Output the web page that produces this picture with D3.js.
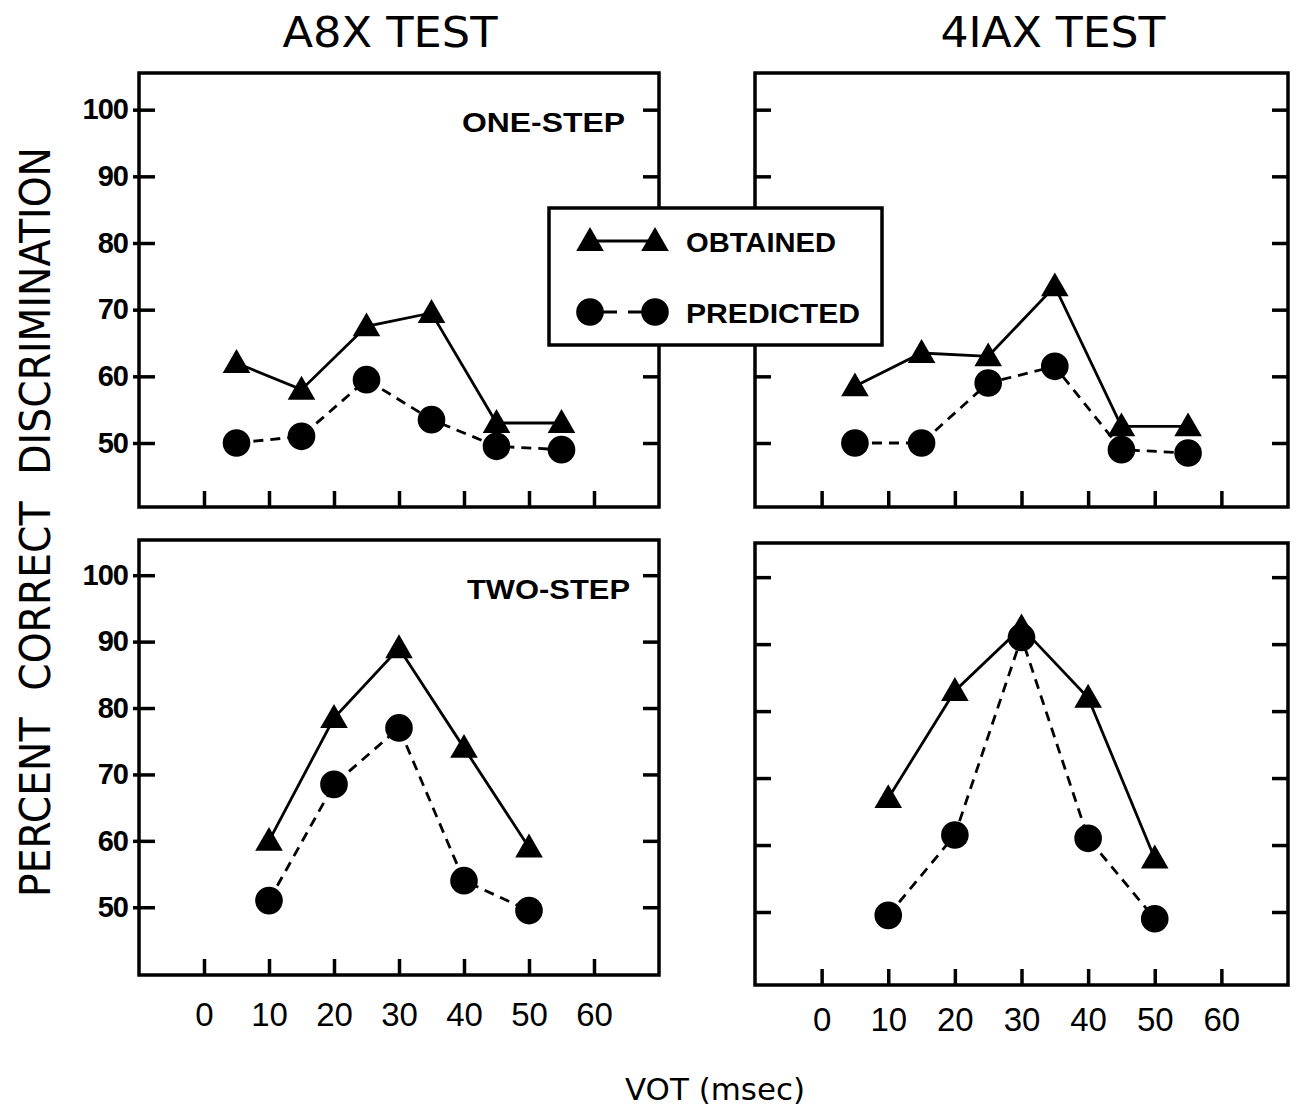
<!DOCTYPE html>
<html>
<head>
<meta charset="utf-8">
<script src="https://cdn.jsdelivr.net/npm/d3@7"></script>
<style>
  body { margin: 0; background: #fff; }
  svg { display: block; }
  .tick line { stroke: #000; stroke-width: 3.5; }
  .tick text { fill: #000; }
</style>
</head>
<body>
<div id="chart"></div>
<script>
// VOT values (msec)
const oneStepVOT = [5, 15, 25, 35, 45, 55];
const twoStepVOT = [10, 20, 30, 40, 50];

// percent correct
const abxOneObtained  = [62, 58, 67.5, 69.5, 53, 53];
const abxOnePredicted = [50, 51, 59.5, 53.5, 49.5, 49];
const iaxOneObtained  = [58.5, 63.5, 63, 73.5, 52.5, 52.5];
const iaxOnePredicted = [50, 50, 59, 61.5, 49, 48.5];
const abxTwoObtained  = [60, 78.5, 89, 74, 59];
const abxTwoPredicted = [51, 68.5, 77, 54, 49.5];
const iaxTwoObtained  = [67, 83, 92.5, 82, 58];
const iaxTwoPredicted = [49.5, 61.5, 91, 61, 49];

const yTicks = [50, 60, 70, 80, 90, 100];
const xTicks = [0, 10, 20, 30, 40, 50, 60];
const testTitles = ["A8X TEST", "4IAX TEST"];
const conditionLabels = ["ONE-STEP", "TWO-STEP"];
const legendLabels = ["OBTAINED", "PREDICTED"];

const svg = d3.select("#chart").append("svg")
    .attr("width", 1296)
    .attr("height", 1111);

const tri = d3.symbol().type(d3.symbolTriangle).size(330);
const dot = d3.symbol().type(d3.symbolCircle).size(600);

function drawPanel(p) {
    const x = d3.scaleLinear().domain([-10, 70]).range([p.left, p.right]);
    const y = d3.scaleLinear().domain(p.yDomain).range([p.bottom, p.top]);

    const g = svg.append("g");

    // inward ticks on all four sides
    const yl = g.append("g")
        .attr("transform", `translate(${p.left},0)`)
        .call(d3.axisLeft(y).tickValues(yTicks).tickSizeInner(-16).tickSizeOuter(0)
            .tickPadding(11).tickFormat(p.yLabels ? d3.format("d") : ""));
    yl.select(".domain").remove();
    yl.selectAll("text")
        .attr("font-family", "Liberation Sans, Arial, sans-serif")
        .attr("font-weight", "bold")
        .attr("font-size", 29)
        .attr("letter-spacing", -1);
    if (p.yLabels) {
        // small stub outside the frame
        yl.selectAll(".tick").append("line").attr("x2", -6);
    }

    const yr = g.append("g")
        .attr("transform", `translate(${p.right},0)`)
        .call(d3.axisRight(y).tickValues(yTicks).tickSize(-16).tickFormat(""));
    yr.select(".domain").remove();

    const xb = g.append("g")
        .attr("transform", `translate(0,${p.bottom})`)
        .call(d3.axisBottom(x).tickValues(xTicks).tickSizeInner(-16).tickSizeOuter(0)
            .tickPadding(p.xPad || 0).tickFormat(p.xLabels ? d3.format("d") : ""));
    xb.select(".domain").remove();
    xb.selectAll("text")
        .attr("font-family", "Liberation Sans, Arial, sans-serif")
        .attr("font-size", 33);

    g.append("rect")
        .attr("x", p.left).attr("y", p.top)
        .attr("width", p.right - p.left).attr("height", p.bottom - p.top)
        .attr("fill", "none").attr("stroke", "#000").attr("stroke-width", 3.5);

    const line = d3.line().x(d => x(d[0])).y(d => y(d[1]));
    const obt = d3.zip(p.vot, p.obtained);
    const pred = d3.zip(p.vot, p.predicted);

    g.append("path").datum(pred).attr("d", line)
        .attr("fill", "none").attr("stroke", "#000")
        .attr("stroke-width", 2.8).attr("stroke-dasharray", "10,7");
    g.append("path").datum(obt).attr("d", line)
        .attr("fill", "none").attr("stroke", "#000").attr("stroke-width", 2.8);

    g.selectAll(".dot").data(pred).enter().append("path")
        .attr("class", "dot")
        .attr("transform", d => `translate(${x(d[0])},${y(d[1])})`)
        .attr("d", dot);
    g.selectAll(".tri").data(obt).enter().append("path")
        .attr("class", "tri")
        .attr("transform", d => `translate(${x(d[0])},${y(d[1]) + 2})`)
        .attr("d", tri);

    if (p.label) {
        g.append("text")
            .attr("x", p.labelX).attr("y", p.labelY)
            .attr("text-anchor", "end")
            .attr("font-family", "Liberation Sans, Arial, sans-serif")
            .attr("font-weight", "bold")
            .attr("font-size", 27)
            .attr("textLength", 163).attr("lengthAdjust", "spacingAndGlyphs")
            .text(p.label);
    }
}

drawPanel({left: 139, right: 659, top: 73, bottom: 507, yDomain: [40.4, 105.5],
    vot: oneStepVOT, obtained: abxOneObtained, predicted: abxOnePredicted, yLabels: true,
    label: conditionLabels[0], labelX: 625, labelY: 132});
drawPanel({left: 755, right: 1288, top: 73, bottom: 507, yDomain: [40.4, 105.5],
    vot: oneStepVOT, obtained: iaxOneObtained, predicted: iaxOnePredicted});
drawPanel({left: 139, right: 659, top: 540, bottom: 975, yDomain: [39.8, 105.3],
    vot: twoStepVOT, obtained: abxTwoObtained, predicted: abxTwoPredicted, yLabels: true,
    xLabels: true, xPad: 28, label: conditionLabels[1], labelX: 630, labelY: 599});
drawPanel({left: 755, right: 1288, top: 543, bottom: 985, yDomain: [39.1, 105.1],
    vot: twoStepVOT, obtained: iaxTwoObtained, predicted: iaxTwoPredicted,
    xLabels: true, xPad: 23});

// legend box over the two top panels
const lg = svg.append("g");
lg.append("rect")
    .attr("x", 549).attr("y", 208).attr("width", 333).attr("height", 137)
    .attr("fill", "#fff").attr("stroke", "#000").attr("stroke-width", 3.5);
lg.append("line").attr("x1", 590).attr("x2", 655).attr("y1", 241).attr("y2", 241)
    .attr("stroke", "#000").attr("stroke-width", 2.8);
lg.append("line").attr("x1", 590).attr("x2", 655).attr("y1", 312).attr("y2", 312)
    .attr("stroke", "#000").attr("stroke-width", 2.8).attr("stroke-dasharray", "27,11");
[590, 655].forEach(cx => {
    lg.append("path").attr("transform", `translate(${cx},243)`).attr("d", tri);
    lg.append("path").attr("transform", `translate(${cx},312)`).attr("d", dot);
});
lg.selectAll(".lt").data(legendLabels).enter().append("text")
    .attr("x", 686)
    .attr("y", (d, i) => 252 + i * 71)
    .attr("font-family", "Liberation Sans, Arial, sans-serif")
    .attr("font-weight", "bold")
    .attr("font-size", 28)
    .attr("textLength", (d, i) => i ? 174 : 150)
    .attr("lengthAdjust", "spacingAndGlyphs")
    .text(d => d);

// titles
svg.selectAll(".title").data(testTitles).enter().append("text")
    .attr("x", (d, i) => i ? 1053 : 390)
    .attr("y", 47)
    .attr("text-anchor", "middle")
    .attr("font-family", "DejaVu Sans Condensed, DejaVu Sans, sans-serif")
    .attr("font-size", 43)
    .attr("textLength", (d, i) => i ? 225 : 215)
    .attr("lengthAdjust", "spacingAndGlyphs")
    .text(d => d);

svg.append("text")
    .attr("transform", "translate(50,522) rotate(-90)")
    .attr("text-anchor", "middle")
    .attr("font-family", "DejaVu Sans Condensed, DejaVu Sans, sans-serif")
    .attr("font-size", 43)
    .attr("textLength", 750)
    .attr("lengthAdjust", "spacingAndGlyphs")
    .attr("word-spacing", 14)
    .text("PERCENT CORRECT DISCRIMINATION");

svg.append("text")
    .attr("x", 715).attr("y", 1100)
    .attr("text-anchor", "middle")
    .attr("font-family", "DejaVu Sans, sans-serif")
    .attr("font-size", 31)
    .attr("textLength", 180)
    .attr("lengthAdjust", "spacingAndGlyphs")
    .text("VOT (msec)");
</script>
</body>
</html>
